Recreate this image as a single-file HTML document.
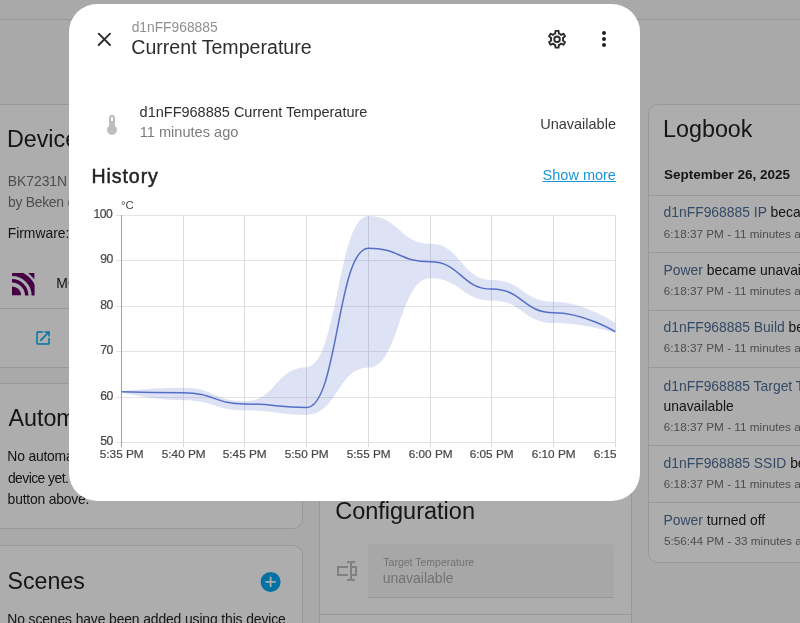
<!DOCTYPE html>
<html><head><meta charset="utf-8"><style>
html,body{margin:0;padding:0;}
body{width:800px;height:623px;overflow:hidden;position:relative;background:#fafafa;font-family:"Liberation Sans",sans-serif;}
.ab{position:absolute;}
.t{position:absolute;white-space:nowrap;line-height:1;}
#root{position:absolute;left:0;top:0;width:800px;height:623px;overflow:hidden;will-change:transform;}
.card{position:absolute;background:#fff;border:1px solid #e0e0e0;border-radius:10px;box-sizing:border-box;}
.hl{position:absolute;height:1px;background:#e0e0e0;}
#scrim{position:absolute;left:0;top:0;width:800px;height:623px;background:rgba(0,0,0,0.32);}
#dlg{position:absolute;left:0;top:0;width:800px;height:623px;overflow:hidden;}
</style></head><body><div id="root">
<div class="hl" style="top:19px;left:0;width:800px"></div><div class="card" style="left:-12px;top:104px;width:315px;height:264px"></div><div class="t" style="left:6.89px;top:128.48px;font-size:23.3px;color:#212121;">Device info</div>
<div class="t" style="left:7.66px;top:175.13px;font-size:13.9px;color:#727272;">BK7231N</div>
<div class="t" style="left:7.91px;top:196.03px;font-size:13.9px;color:#727272;letter-spacing:-0.25px;">by Beken (OpenBeken)</div>
<div class="t" style="left:7.66px;top:226.93px;font-size:13.9px;color:#212121;">Firmware: 1.18.0</div>
<svg class="ab" style="left:12.4px;top:273.4px" width="22.6" height="22.6" viewBox="0 0 22.6 22.6"><defs><clipPath id="mq"><rect x="0" y="0" width="22.6" height="22.6"/></clipPath></defs><g clip-path="url(#mq)" fill="#660066"><path d="M0,22.6V13.4A9.2,9.2 0 0 1 9.2,22.6Z"/><circle cx="0" cy="22.6" r="14.75" fill="none" stroke="#660066" stroke-width="3.5"/><circle cx="0" cy="22.6" r="22.4" fill="none" stroke="#660066" stroke-width="5.6"/><path d="M16.2,0H22.6V6.4Z"/></g></svg><div class="t" style="left:56.36px;top:277.13px;font-size:13.9px;color:#212121;">MQTT INFO</div>
<div class="hl" style="top:308px;left:0;width:302px"></div><svg class="ab" style="left:34px;top:329px" width="18" height="18" viewBox="0 0 24 24"><path fill="#03a9f4" d="M14,3V5H17.59L7.76,14.83L9.17,16.24L19,6.41V10H21V3M19,19H5V5H12V3H5C3.89,3 3,3.9 3,5V19A2,2 0 0,0 5,21H19A2,2 0 0,0 21,19V12H19V19Z"/></svg><div class="card" style="left:-12px;top:383px;width:315px;height:146px"></div><div class="t" style="left:8.45px;top:407.08px;font-size:23.3px;color:#212121;">Automations</div>
<div class="t" style="left:7.36px;top:450.23px;font-size:13.9px;color:#212121;letter-spacing:-0.2px;">No automations have been added using this</div>
<div class="t" style="left:7.92px;top:471.83px;font-size:13.9px;color:#212121;letter-spacing:-0.55px;">device yet. You can add one by clicking the +</div>
<div class="t" style="left:7.61px;top:493.03px;font-size:13.9px;color:#212121;letter-spacing:-0.2px;">button above.</div>
<div class="card" style="left:-12px;top:545px;width:315px;height:200px"></div><div class="t" style="left:7.46px;top:569.56px;font-size:23.2px;color:#212121;">Scenes</div>
<svg class="ab" style="left:258px;top:570px" width="26" height="26" viewBox="0 0 26 26"><circle cx="12.6" cy="11.9" r="10" fill="#03a9f4"/><path d="M7.4,11.9H17.8M12.6,6.7V17.1" stroke="#fff" stroke-width="1.8"/></svg><div class="t" style="left:7.36px;top:613.23px;font-size:13.9px;color:#212121;letter-spacing:-0.12px;">No scenes have been added using this device</div>
<div class="card" style="left:319px;top:380px;width:313px;height:300px"></div><div class="t" style="left:335.20px;top:499.51px;font-size:23.5px;color:#212121;">Configuration</div>
<svg class="ab" style="left:335px;top:559px" width="24" height="24" viewBox="0 0 24 24"><path fill="#bdbdbd" d="M17,7H22V17H17V19A1,1 0 0,0 18,20H20V22H17.5C16.95,22 16,21.55 16,21C16,21.55 15.05,22 14.5,22H12V20H14A1,1 0 0,0 15,19V5A1,1 0 0,0 14,4H12V2H14.5C15.05,2 16,2.45 16,3C16,2.45 16.95,2 17.5,2H20V4H18A1,1 0 0,0 17,5V7M2,7H13V9H4V15H13V17H2V7M20,15V9H17V15H20Z"/></svg><div class="ab" style="left:368px;top:544px;width:246px;height:54px;background:#f7f7f7;border-bottom:1px solid #e0e0e0;border-radius:4px 4px 0 0;box-sizing:border-box"></div><div class="t" style="left:383.37px;top:556.51px;font-size:10.5px;color:#a8a8a8;">Target Temperature</div>
<div class="t" style="left:382.69px;top:570.55px;font-size:14.0px;color:#a8a8a8;">unavailable</div>
<div class="hl" style="top:614px;left:320px;width:311px"></div><div class="card" style="left:648px;top:104px;width:200px;height:459px"></div><div class="t" style="left:663.09px;top:118.38px;font-size:23.3px;color:#212121;">Logbook</div>
<div class="t" style="left:664.01px;top:168.37px;font-size:13.5px;color:#212121;font-weight:bold;">September 26, 2025</div>
<div class="hl" style="top:195px;left:649px;width:151px"></div><div class="hl" style="top:252px;left:649px;width:151px"></div><div class="hl" style="top:310px;left:649px;width:151px"></div><div class="hl" style="top:367px;left:649px;width:151px"></div><div class="hl" style="top:445px;left:649px;width:151px"></div><div class="hl" style="top:502px;left:649px;width:151px"></div><div class="t" style="left:663.50px;top:205.83px;font-size:13.9px;color:#212121"><span style="color:#4f6d94">d1nFF968885 IP</span> became unavailable</div>
<div class="t" style="left:663.80px;top:228.05px;font-size:11.75px;color:#727272;">6:18:37 PM - 11 minutes ago</div>
<div class="t" style="left:663.50px;top:263.63px;font-size:13.9px;color:#212121"><span style="color:#4f6d94">Power</span> became unavailable</div>
<div class="t" style="left:663.80px;top:284.75px;font-size:11.75px;color:#727272;">6:18:37 PM - 11 minutes ago</div>
<div class="t" style="left:663.50px;top:321.23px;font-size:13.9px;color:#212121"><span style="color:#4f6d94">d1nFF968885 Build</span> became unavailable</div>
<div class="t" style="left:663.80px;top:342.45px;font-size:11.75px;color:#727272;">6:18:37 PM - 11 minutes ago</div>
<div class="t" style="left:663.50px;top:379.93px;font-size:13.9px;color:#212121"><span style="color:#4f6d94">d1nFF968885 Target Temperature</span> became</div>
<div class="t" style="left:663.50px;top:399.93px;font-size:13.9px;color:#212121;">unavailable</div>
<div class="t" style="left:663.80px;top:421.05px;font-size:11.75px;color:#727272;">6:18:37 PM - 11 minutes ago</div>
<div class="t" style="left:663.50px;top:457.03px;font-size:13.9px;color:#212121"><span style="color:#4f6d94">d1nFF968885 SSID</span> became unavailable</div>
<div class="t" style="left:663.80px;top:478.05px;font-size:11.75px;color:#727272;">6:18:37 PM - 11 minutes ago</div>
<div class="t" style="left:663.50px;top:514.03px;font-size:13.9px;color:#212121"><span style="color:#4f6d94">Power</span> turned off</div>
<div class="t" style="left:663.93px;top:535.15px;font-size:11.75px;color:#727272;">5:56:44 PM - 33 minutes ago</div>

<div id="scrim"></div>
<div id="dlg">
<div class="ab" style="left:69px;top:4px;width:571px;height:497px;background:#fff;border-radius:28px"></div><svg class="ab" style="left:92px;top:27px" width="24" height="24" viewBox="0 0 24 24"><path d="M6.7,6.7L18,18M18,6.7L6.7,18" stroke="#2e2e2e" stroke-width="1.9" stroke-linecap="round" fill="none"/></svg><div class="t" style="left:131.67px;top:20.92px;font-size:13.8px;color:#909090;">d1nFF968885</div>
<div class="t" style="left:131.25px;top:37.81px;font-size:19.6px;color:#2e2e2e;">Current Temperature</div>
<svg class="ab" style="left:545px;top:27px" width="24" height="24" viewBox="0 0 24 24"><path fill="#2a2a2a" transform="translate(12.05,12.25) scale(0.93) translate(-12,-12)" d="M12,8A4,4 0 0,1 16,12A4,4 0 0,1 12,16A4,4 0 0,1 8,12A4,4 0 0,1 12,8M12,10A2,2 0 0,0 10,12A2,2 0 0,0 12,14A2,2 0 0,0 14,12A2,2 0 0,0 12,10M10,22C9.75,22 9.54,21.82 9.5,21.58L9.13,18.93C8.5,18.68 7.96,18.34 7.44,17.94L4.95,18.95C4.73,19.03 4.46,18.95 4.34,18.73L2.34,15.27C2.21,15.05 2.27,14.78 2.46,14.63L4.57,12.97L4.5,12L4.57,11L2.46,9.37C2.27,9.22 2.21,8.95 2.34,8.73L4.34,5.27C4.46,5.05 4.73,4.96 4.95,5.05L7.44,6.05C7.96,5.66 8.5,5.32 9.13,5.07L9.5,2.42C9.54,2.18 9.75,2 10,2H14C14.25,2 14.46,2.18 14.5,2.42L14.87,5.07C15.5,5.32 16.04,5.66 16.56,6.05L19.05,5.05C19.27,4.96 19.54,5.05 19.66,5.27L21.66,8.73C21.79,8.95 21.73,9.22 21.54,9.37L19.43,11L19.5,12L19.43,13L21.54,14.63C21.73,14.78 21.79,15.05 21.66,15.27L19.66,18.73C19.54,18.95 19.27,19.04 19.05,18.95L16.56,17.95C16.04,18.34 15.5,18.68 14.87,18.93L14.5,21.58C14.46,21.82 14.25,22 14,22H10M11.25,4L10.88,6.61C9.68,6.86 8.62,7.5 7.85,8.39L5.44,7.35L4.69,8.65L6.8,10.2C6.4,11.37 6.4,12.64 6.8,13.8L4.68,15.36L5.43,16.66L7.86,15.62C8.63,16.5 9.68,17.14 10.87,17.38L11.24,20H12.76L13.13,17.39C14.32,17.14 15.37,16.5 16.14,15.62L18.57,16.66L19.32,15.36L17.2,13.81C17.6,12.64 17.6,11.37 17.2,10.2L19.31,8.65L18.56,7.35L16.15,8.39C15.38,7.5 14.32,6.86 13.12,6.62L12.75,4H11.25Z"/></svg><svg class="ab" style="left:592px;top:27.25px" width="24" height="24" viewBox="0 0 24 24"><path fill="#212121" d="M12,16A2,2 0 0,1 14,18A2,2 0 0,1 12,20A2,2 0 0,1 10,18A2,2 0 0,1 12,16M12,10A2,2 0 0,1 14,12A2,2 0 0,1 12,14A2,2 0 0,1 10,12A2,2 0 0,1 12,10M12,4A2,2 0 0,1 14,6A2,2 0 0,1 12,8A2,2 0 0,1 10,6A2,2 0 0,1 12,4Z"/></svg><svg class="ab" style="left:100px;top:112.7px" width="24" height="24" viewBox="0 0 24 24"><path fill="#bdbdbd" d="M15 13V5A3 3 0 0 0 9 5V13A5 5 0 1 0 15 13M12 4A1 1 0 0 1 13 5V8H11V5A1 1 0 0 1 12 4Z"/></svg><div class="t" style="left:139.59px;top:105.43px;font-size:14.5px;color:#303030;">d1nFF968885 Current Temperature</div>
<div class="t" style="left:139.69px;top:125.14px;font-size:14.6px;color:#7c7c7c;">11 minutes ago</div>
<div class="t" style="left:540.18px;top:116.63px;font-size:14.5px;color:#3a3a3a;">Unavailable</div>
<div class="t" style="left:91.49px;top:167.21px;font-size:19.6px;color:#212121;-webkit-text-stroke:0.45px #212121;letter-spacing:0.9px;">History</div>
<div class="t" style="left:542.60px;top:168.43px;font-size:14.5px;color:#1b95d3;text-decoration:underline;">Show more</div>
<svg class="ab" style="left:0;top:0" width="800" height="623" viewBox="0 0 800 623">
<line x1="116" y1="215.5" x2="616" y2="215.5" stroke="#e4e4e4" stroke-width="1"/>
<line x1="116" y1="260.5" x2="616" y2="260.5" stroke="#e4e4e4" stroke-width="1"/>
<line x1="116" y1="306.5" x2="616" y2="306.5" stroke="#e4e4e4" stroke-width="1"/>
<line x1="116" y1="351.5" x2="616" y2="351.5" stroke="#e4e4e4" stroke-width="1"/>
<line x1="116" y1="397.5" x2="616" y2="397.5" stroke="#e4e4e4" stroke-width="1"/>
<line x1="116" y1="442.5" x2="616" y2="442.5" stroke="#e4e4e4" stroke-width="1"/>
<line x1="183.5" y1="215" x2="183.5" y2="447" stroke="#dcdcdc" stroke-width="1"/>
<line x1="244.5" y1="215" x2="244.5" y2="447" stroke="#dcdcdc" stroke-width="1"/>
<line x1="306.5" y1="215" x2="306.5" y2="447" stroke="#dcdcdc" stroke-width="1"/>
<line x1="368.5" y1="215" x2="368.5" y2="447" stroke="#dcdcdc" stroke-width="1"/>
<line x1="430.5" y1="215" x2="430.5" y2="447" stroke="#dcdcdc" stroke-width="1"/>
<line x1="491.5" y1="215" x2="491.5" y2="447" stroke="#dcdcdc" stroke-width="1"/>
<line x1="553.5" y1="215" x2="553.5" y2="447" stroke="#dcdcdc" stroke-width="1"/>
<line x1="615.5" y1="215" x2="615.5" y2="447" stroke="#dcdcdc" stroke-width="1"/>
<path d="M121.50,391.20 C121.50,391.20 152.36,387.70 183.22,387.70 C214.09,387.70 214.09,401.19 244.95,401.19 C275.81,401.19 275.81,367.14 306.67,367.14 C337.54,367.14 337.54,215.95 368.40,215.95 C399.26,215.95 399.26,243.65 430.12,243.65 C460.99,243.65 460.99,279.97 491.85,279.97 C522.71,279.97 522.71,301.76 553.57,301.76 C584.44,301.76 615.30,323.10 615.30,323.10 L615.30,333.09 C615.30,333.09 584.44,323.10 553.57,323.10 C522.71,323.10 522.71,300.40 491.85,300.40 C460.99,300.40 460.99,278.15 430.12,278.15 C399.26,278.15 399.26,367.59 368.40,367.59 C337.54,367.59 337.54,414.81 306.67,414.81 C275.81,414.81 275.81,410.27 244.95,410.27 C214.09,410.27 214.09,400.19 183.22,400.19 C152.36,400.19 121.50,392.56 121.50,392.56 Z" fill="#5470c6" fill-opacity="0.2"/>
<path d="M121.50,391.83 C121.50,391.83 152.36,392.83 183.22,392.83 C214.09,392.83 214.09,403.91 244.95,403.91 C275.81,403.91 275.81,407.54 306.67,407.54 C337.54,407.54 337.54,248.19 368.40,248.19 C399.26,248.19 399.26,261.81 430.12,261.81 C460.99,261.81 460.99,289.05 491.85,289.05 C522.71,289.05 522.71,312.66 553.57,312.66 C584.44,312.66 615.30,331.72 615.30,331.72" fill="none" stroke="#5470c6" stroke-width="1.5"/>
<line x1="121.5" y1="215" x2="121.5" y2="447" stroke="#a0a0a0" stroke-width="1"/>
</svg><div class="t" style="left:120.93px;top:199.85px;font-size:11.4px;color:#464646;">°C</div>
<div class="t" style="left:93.43px;top:207.77px;font-size:12.2px;color:#464646;letter-spacing:-0.45px;-webkit-text-stroke:0.2px #464646;">100</div>
<div class="t" style="left:100.21px;top:252.77px;font-size:12.2px;color:#464646;letter-spacing:-0.45px;-webkit-text-stroke:0.2px #464646;">90</div>
<div class="t" style="left:100.21px;top:298.77px;font-size:12.2px;color:#464646;letter-spacing:-0.45px;-webkit-text-stroke:0.2px #464646;">80</div>
<div class="t" style="left:100.21px;top:343.77px;font-size:12.2px;color:#464646;letter-spacing:-0.45px;-webkit-text-stroke:0.2px #464646;">70</div>
<div class="t" style="left:100.21px;top:389.77px;font-size:12.2px;color:#464646;letter-spacing:-0.45px;-webkit-text-stroke:0.2px #464646;">60</div>
<div class="t" style="left:100.21px;top:434.77px;font-size:12.2px;color:#464646;letter-spacing:-0.45px;-webkit-text-stroke:0.2px #464646;">50</div>
<div class="ab" style="left:0;top:440px;width:616px;height:30px;overflow:hidden"><div class="t" style="left:99.78px;top:8.71px;font-size:11.8px;color:#464646;-webkit-text-stroke:0.2px #464646;">5:35 PM</div>
<div class="t" style="left:161.78px;top:8.71px;font-size:11.8px;color:#464646;-webkit-text-stroke:0.2px #464646;">5:40 PM</div>
<div class="t" style="left:222.78px;top:8.71px;font-size:11.8px;color:#464646;-webkit-text-stroke:0.2px #464646;">5:45 PM</div>
<div class="t" style="left:284.78px;top:8.71px;font-size:11.8px;color:#464646;-webkit-text-stroke:0.2px #464646;">5:50 PM</div>
<div class="t" style="left:346.78px;top:8.71px;font-size:11.8px;color:#464646;-webkit-text-stroke:0.2px #464646;">5:55 PM</div>
<div class="t" style="left:408.71px;top:8.71px;font-size:11.8px;color:#464646;-webkit-text-stroke:0.2px #464646;">6:00 PM</div>
<div class="t" style="left:469.71px;top:8.71px;font-size:11.8px;color:#464646;-webkit-text-stroke:0.2px #464646;">6:05 PM</div>
<div class="t" style="left:531.71px;top:8.71px;font-size:11.8px;color:#464646;-webkit-text-stroke:0.2px #464646;">6:10 PM</div>
<div class="t" style="left:593.71px;top:8.71px;font-size:11.8px;color:#464646;-webkit-text-stroke:0.2px #464646;">6:15 PM</div>
</div>
</div>
</div></body></html>
